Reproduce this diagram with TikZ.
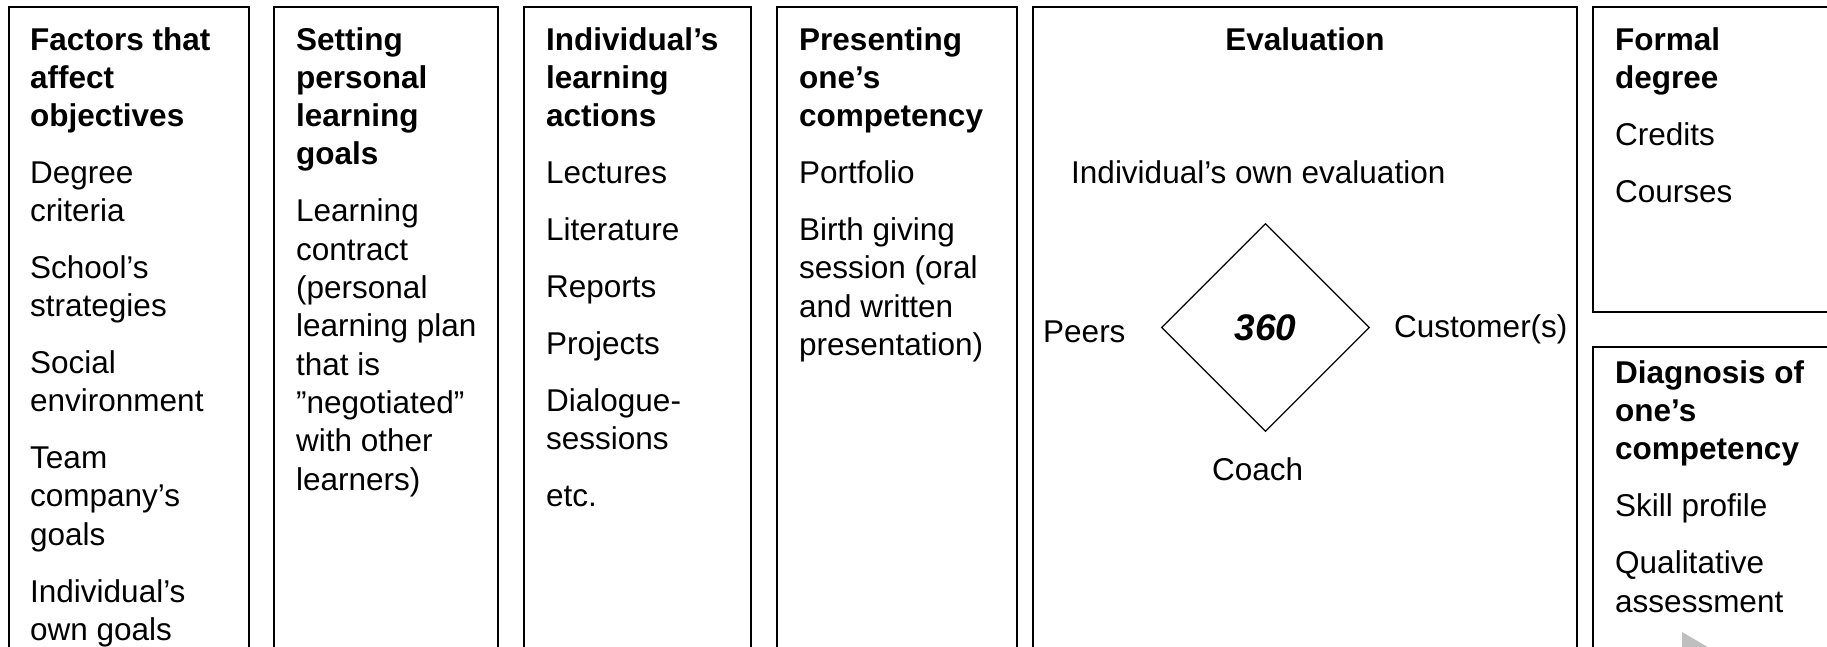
\documentclass[tikz,border=0pt]{standalone}
\usepackage{fontspec}
\setmainfont{Liberation Sans}
\usetikzlibrary{shapes.geometric}
\newcommand\headline[4]{\node[head] (#1) at (#2,#3) {#4};}
\newcommand\bodyline[4]{\node[body] (#1) at (#2,#3) {#4};}
\begin{document}
\begin{tikzpicture}[x=1pt,y=-1pt,
  box/.style={draw=black, line width=1.8pt, anchor=north west, inner sep=0pt, outer sep=0pt, shape=rectangle},
  body/.style={anchor=base west, inner sep=0pt, font=\fontsize{31.5}{38}\selectfont},
  head/.style={body, font=\fontsize{31.5}{38}\selectfont\bfseries},
  dia/.style={draw=black, line width=1.3pt, shape=diamond, aspect=1, minimum width=208pt, minimum height=208pt, inner sep=0pt, font=\fontsize{37}{40}\selectfont\bfseries\itshape},
]
\useasboundingbox (0,0) rectangle (1827,646);
\clip (0,0) rectangle (1827,646);

% boxes
\node[box, minimum width=240pt, minimum height=720pt] (b1) at (9,7) {};
\node[box, minimum width=224pt, minimum height=720pt] (b2) at (274,7) {};
\node[box, minimum width=227pt, minimum height=720pt] (b3) at (524,7) {};
\node[box, minimum width=240pt, minimum height=720pt] (b4) at (777,7) {};
\node[box, minimum width=544pt, minimum height=720pt] (b5) at (1033,7) {};
\node[box, minimum width=260pt, minimum height=305pt] (b6) at (1593,7) {};
\node[box, minimum width=260pt, minimum height=400pt] (b7) at (1593,347) {};

% box 1
\headline{t1a}{30}{50}{Factors that}
\headline{t1b}{30}{88.3}{affect}
\headline{t1c}{30}{126.6}{objectives}
\bodyline{t1d}{30}{183.6}{Degree}
\bodyline{t1e}{30}{221.9}{criteria}
\bodyline{t1f}{30}{278.6}{School’s}
\bodyline{t1g}{30}{316.9}{strategies}
\bodyline{t1h}{30}{373.6}{Social}
\bodyline{t1i}{30}{411.9}{environment}
\bodyline{t1j}{30}{468.6}{Team}
\bodyline{t1k}{30}{506.9}{company’s}
\bodyline{t1l}{30}{545.2}{goals}
\bodyline{t1m}{30}{602}{Individual’s}
\bodyline{t1n}{30}{640.3}{own goals}

% box 2
\headline{t2a}{296}{50}{Setting}
\headline{t2b}{296}{88.3}{personal}
\headline{t2c}{296}{126.6}{learning}
\headline{t2d}{296}{164.9}{goals}
\bodyline{t2e}{296}{221.9}{Learning}
\bodyline{t2f}{296}{260.2}{contract}
\bodyline{t2g}{296}{298.5}{(personal}
\bodyline{t2h}{296}{336.8}{learning plan}
\bodyline{t2i}{296}{375.1}{that is}
\bodyline{t2j}{296}{413.4}{”negotiated”}
\bodyline{t2k}{296}{451.7}{with other}
\bodyline{t2l}{296}{490}{learners)}

% box 3
\headline{t3a}{546}{50}{Individual’s}
\headline{t3b}{546}{88.3}{learning}
\headline{t3c}{546}{126.6}{actions}
\bodyline{t3d}{546}{183.6}{Lectures}
\bodyline{t3e}{546}{240.6}{Literature}
\bodyline{t3f}{546}{297.6}{Reports}
\bodyline{t3g}{546}{354.6}{Projects}
\bodyline{t3h}{546}{411.6}{Dialogue-}
\bodyline{t3i}{546}{449.9}{sessions}
\bodyline{t3j}{546}{506.9}{etc.}

% box 4
\headline{t4a}{799}{50}{Presenting}
\headline{t4b}{799}{88.3}{one’s}
\headline{t4c}{799}{126.6}{competency}
\bodyline{t4d}{799}{183.6}{Portfolio}
\bodyline{t4e}{799}{240.6}{Birth giving}
\bodyline{t4f}{799}{278.9}{session (oral}
\bodyline{t4g}{799}{317.2}{and written}
\bodyline{t4h}{799}{355.5}{presentation)}

% box 5
\node[head, anchor=base] (t5a) at (1305,50) {Evaluation};
\bodyline{t5b}{1071}{183}{Individual’s own evaluation}
\node[dia] (d360) at (1265.5,327.5) {360};
\bodyline{t5c}{1043}{342.7}{Peers}
\bodyline{t5d}{1394}{337.3}{Customer(s)}
\bodyline{t5e}{1212}{480}{Coach}

% box 6
\headline{t6a}{1615}{50}{Formal}
\headline{t6b}{1615}{88.3}{degree}
\bodyline{t6c}{1615}{145.3}{Credits}
\bodyline{t6d}{1615}{202.3}{Courses}

% box 7
\headline{t7a}{1615}{383.3}{Diagnosis of}
\headline{t7b}{1615}{421.6}{one’s}
\headline{t7c}{1615}{459.9}{competency}
\bodyline{t7d}{1615}{516.9}{Skill profile}
\bodyline{t7e}{1615}{573.9}{Qualitative}
\bodyline{t7f}{1615}{612.2}{assessment}

% grey triangle
\fill[color={rgb,255:red,191;green,191;blue,191}] (1682,632) -- (1682,700) -- (1740,666) -- cycle;
\end{tikzpicture}
\end{document}
